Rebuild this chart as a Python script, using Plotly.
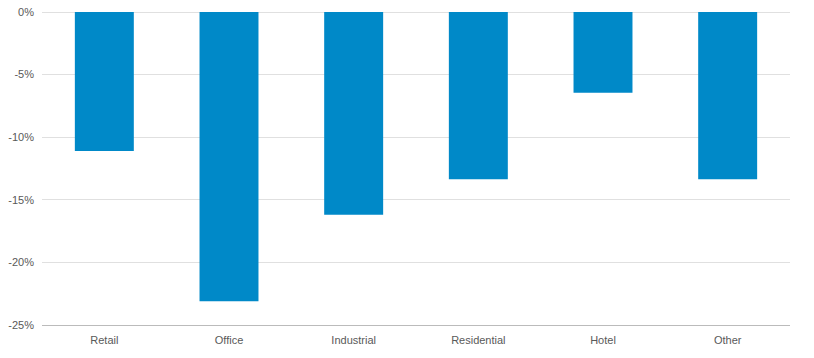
import plotly.graph_objects as go

categories = ["Retail", "Office", "Industrial", "Residential", "Hotel", "Other"]
values = [-11.1, -23.1, -16.2, -13.35, -6.45, -13.35]
y_ticks = [0, -5, -10, -15, -20, -25]
y_tick_labels = ["0%", "-5%", "-10%", "-15%", "-20%", "-25%"]

fig = go.Figure(go.Bar(x=categories, y=values, marker=dict(color="#0089c8", line=dict(width=0))))

fig.update_layout(
    width=814, height=358,
    margin=dict(l=42, r=24, t=12, b=33, autoexpand=False),
    paper_bgcolor="white", plot_bgcolor="white",
    bargap=0.527,
    showlegend=False,
    font=dict(family="Liberation Sans, Arial, sans-serif", size=11, color="#595959"),
)
fig.update_xaxes(showgrid=False, showline=True, linecolor="#bbbbbb", linewidth=1,
                 ticks="", automargin=False, ticklabelstandoff=5,
                 tickfont=dict(size=11, color="#595959"))
fig.update_yaxes(range=[-25, 0], tickvals=y_ticks, ticktext=y_tick_labels,
                 showgrid=True, gridcolor="#e0e0e0", gridwidth=1,
                 zeroline=True, zerolinecolor="#e0e0e0", zerolinewidth=1,
                 showline=False, ticks="", automargin=False, ticklabelstandoff=7,
                 tickfont=dict(size=11, color="#595959"))

fig.write_html("out.html",
               config={"displayModeBar": False},
               post_script="document.body.style.margin='0';document.body.style.overflow='hidden';")
